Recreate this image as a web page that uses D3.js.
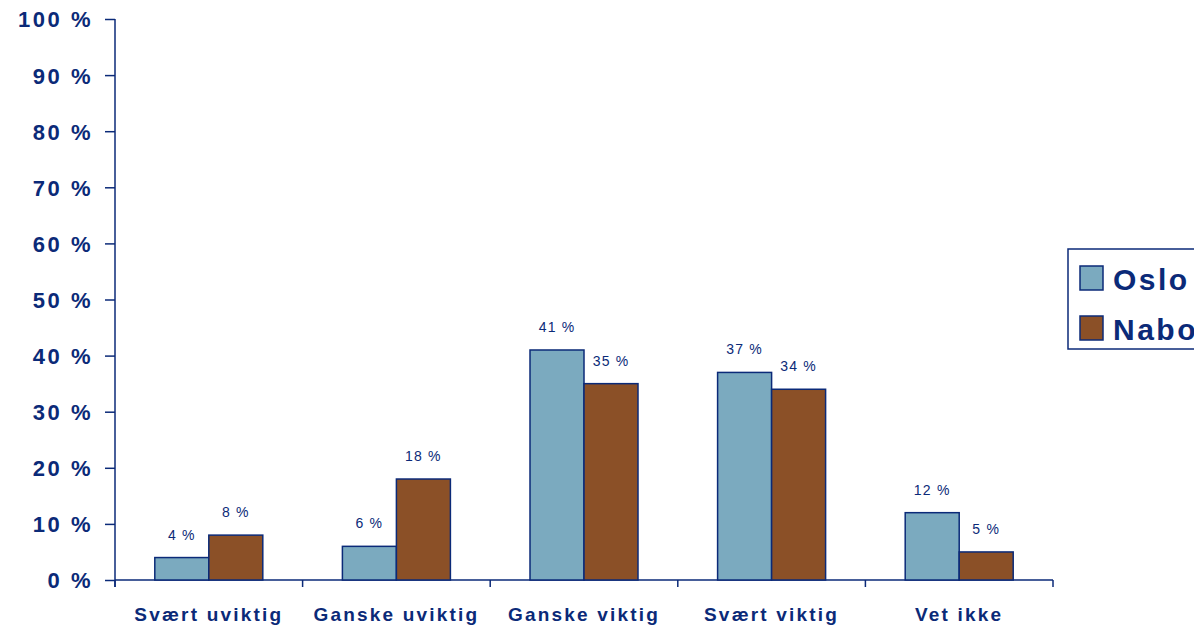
<!DOCTYPE html>
<html><head><meta charset="utf-8">
<script src="https://cdn.jsdelivr.net/npm/d3@7"></script>
<style>body{margin:0;background:#fff;overflow:hidden}</style>
</head><body>
<svg id="c" width="1194" height="628"></svg>
<script>
const categories = ["Svært uviktig","Ganske uviktig","Ganske viktig","Svært viktig","Vet ikke"];
const seriesNames = ["Oslo","Nabokommuner"];
const oslo = [4,6,41,37,12];
const nabo = [8,18,35,34,5];
const yTicks = [0,10,20,30,40,50,60,70,80,90,100];
const colors = ["#7BAABF","#8B5027"];
const navy = "#0B2A78";
const font = "Liberation Sans, Arial, sans-serif";

const svg = d3.select("#c");
const x0 = d3.scaleBand().domain(categories).range([115,1053]).paddingInner(0).paddingOuter(0);
const y = d3.scaleLinear().domain([0,100]).range([580,19]);
const bw = 54;
const x1 = d3.scaleBand().domain(seriesNames).range([0,bw*2]);

// y axis
const yAxis = svg.append("g").attr("transform","translate(115,0)")
  .call(d3.axisLeft(y).tickValues(yTicks).tickSize(10).tickPadding(12).tickFormat(d=>d+" %"));
yAxis.select(".domain").remove();
yAxis.selectAll("line").attr("stroke",navy).attr("stroke-width",1.5);
yAxis.selectAll("text").attr("fill",navy).style("font-family",font)
  .style("font-weight","bold").style("font-size","22px").style("letter-spacing","2.5px").attr("dy","0.36em");
svg.append("line").attr("x1",115).attr("x2",115).attr("y1",y(100)).attr("y2",587).attr("stroke",navy).attr("stroke-width",1.5);

// x axis
svg.append("line").attr("x1",115).attr("x2",1053).attr("y1",y(0)).attr("y2",y(0)).attr("stroke",navy).attr("stroke-width",1.5);
const bounds = categories.map(c=>x0(c)).concat([x0.range()[1]]);
svg.selectAll(".xt").data(bounds).enter().append("line")
  .attr("x1",d=>d).attr("x2",d=>d).attr("y1",y(0)).attr("y2",587).attr("stroke",navy).attr("stroke-width",1.5);
svg.selectAll(".xl").data(categories).enter().append("text")
  .attr("x",d=>x0(d)+x0.bandwidth()/2).attr("y",621).attr("text-anchor","middle")
  .attr("fill",navy).style("font-family",font).style("font-weight","bold").style("font-size","19px")
  .style("letter-spacing","2.2px")
  .text(d=>d);

// bars
const series = [oslo,nabo];
series.forEach((vals,si)=>{
  const g = svg.append("g");
  categories.forEach((c,i)=>{
    const cx = x0(c)+x0.bandwidth()/2 - bw + x1(seriesNames[si]);
    g.append("rect").attr("x",cx).attr("y",y(vals[i])).attr("width",bw).attr("height",y(0)-y(vals[i]))
      .attr("fill",colors[si]).attr("stroke",navy).attr("stroke-width",1.5);
    g.append("text").attr("x",cx+bw/2).attr("y",y(vals[i])-18).attr("text-anchor","middle")
      .attr("fill",navy).style("font-family",font).style("font-size","14px").style("letter-spacing","1.2px")
      .text(vals[i]+" %");
  });
});

// legend
svg.append("rect").attr("x",1068).attr("y",249).attr("width",140).attr("height",100)
  .attr("fill","#fff").attr("stroke",navy).attr("stroke-width",1.5);
seriesNames.forEach((n,i)=>{
  svg.append("rect").attr("x",1080).attr("y",266+i*50).attr("width",23).attr("height",24)
    .attr("fill",colors[i]).attr("stroke",navy).attr("stroke-width",1.5);
  svg.append("text").attr("x",1113).attr("y",279+i*50).attr("dy","0.36em").attr("fill",navy)
    .style("font-family",font).style("font-weight","bold").style("font-size","30px").style("letter-spacing","2.5px").text(n);
});
</script>
</body></html>
